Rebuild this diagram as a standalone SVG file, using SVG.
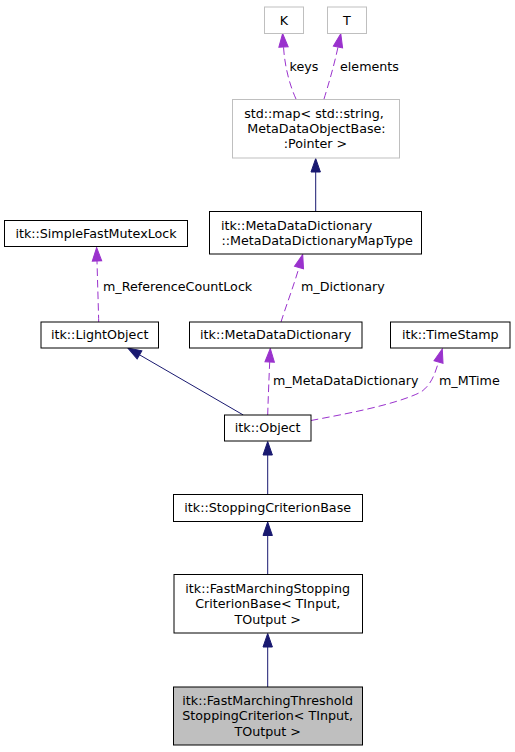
<svg xmlns="http://www.w3.org/2000/svg" width="515" height="752" viewBox="0 0 515 752">
<defs>
<style>
.node rect{fill:#ffffff;stroke:#000000;stroke-width:1}
.node.gray rect{stroke:#bfbfbf}
.node.sel rect{fill:#bfbfbf}
text{font-family:"DejaVu Sans","Liberation Sans",sans-serif;font-size:12.7px;fill:#000000}
.c{text-anchor:middle}
.inh{fill:none;stroke:#191970;stroke-width:1}
.use{fill:none;stroke:#9a32cd;stroke-width:1;stroke-dasharray:7.5,4}
</style>
<marker id="ah" markerUnits="userSpaceOnUse" markerWidth="16" markerHeight="12" refX="0" refY="0" viewBox="0 -6 14 12" orient="auto" overflow="visible">
<path d="M0,-4.7 L13.5,0 L0,4.7 z" fill="#191970" stroke="#191970" stroke-width="1"/>
</marker>
<marker id="ap" markerUnits="userSpaceOnUse" markerWidth="16" markerHeight="12" refX="0" refY="0" viewBox="0 -6 14 12" orient="auto" overflow="visible">
<path d="M0,-4.7 L13.5,0 L0,4.7 z" fill="#9a32cd" stroke="#9a32cd" stroke-width="1"/>
</marker>
</defs>
<rect width="515" height="752" fill="#ffffff"/>
<g id="connectors">
<path class="use" d="M296,99 C291,88 285,70 283.5,47" marker-end="url(#ap)"/>
<path class="use" d="M324,99 C328,86 334,66 338,47" marker-end="url(#ap)"/>
<path class="inh" d="M315.7,211 L315.7,172" marker-end="url(#ah)"/>
<path class="use" d="M281,322 C286,306 294,285 299,267.5" marker-end="url(#ap)"/>
<path class="use" d="M98.7,322 C98.3,305 97.5,280 97,261" marker-end="url(#ap)"/>
<path class="inh" d="M243.3,415 L139.5,354.8" marker-end="url(#ah)"/>
<path class="use" d="M267.7,415 C268.2,398 269,378 269.7,362" marker-end="url(#ap)"/>
<path class="use" d="M311,420.5 C345,414 395,405 421,392 C431,385 435,374 438.5,362" marker-end="url(#ap)"/>
<path class="inh" d="M267.7,494 L267.7,455" marker-end="url(#ah)"/>
<path class="inh" d="M267.7,574 L267.7,535.5" marker-end="url(#ah)"/>
<path class="inh" d="M267.7,687 L267.7,647" marker-end="url(#ah)"/>
</g>
<g id="labels">
<text x="289.5" y="71">keys</text>
<text x="340" y="71">elements</text>
<text x="103" y="291">m_ReferenceCountLock</text>
<text x="301" y="291">m_Dictionary</text>
<text x="273" y="385">m_MetaDataDictionary</text>
<text x="439" y="385">m_MTime</text>
</g>
<g id="node-K" class="node gray">
<rect x="264.5" y="7" width="39" height="26.5"/>
<text class="c" x="284" y="24.5">K</text>
</g>
<g id="node-T" class="node gray">
<rect x="327.5" y="7" width="39" height="26.5"/>
<text class="c" x="347" y="24.5">T</text>
</g>
<g id="node-map" class="node gray">
<rect x="232.5" y="99.5" width="167" height="58.5"/>
<text class="c" x="314" y="117.5">std::map&lt; std::string,</text>
<text class="c" x="316.5" y="132.5">MetaDataObjectBase:</text>
<text class="c" x="315.5" y="147.5">:Pointer &gt;</text>
</g>
<g id="node-maptype" class="node">
<rect x="209.5" y="211.5" width="212" height="42.5"/>
<text x="221" y="229.5">itk::MetaDataDictionary</text>
<text x="221.5" y="245">::MetaDataDictionaryMapType</text>
</g>
<g id="node-mutex" class="node">
<rect x="4.5" y="220.5" width="183" height="26"/>
<text class="c" x="96" y="237.5">itk::SimpleFastMutexLock</text>
</g>
<g id="node-lightobject" class="node">
<rect x="41" y="322" width="117.5" height="26"/>
<text class="c" x="99.7" y="339">itk::LightObject</text>
</g>
<g id="node-metadatadictionary" class="node">
<rect x="189.5" y="322" width="172.5" height="26"/>
<text class="c" x="275.7" y="339">itk::MetaDataDictionary</text>
</g>
<g id="node-timestamp" class="node">
<rect x="390.5" y="322" width="119.5" height="26"/>
<text class="c" x="450.3" y="339">itk::TimeStamp</text>
</g>
<g id="node-object" class="node">
<rect x="224.5" y="415" width="86.5" height="26"/>
<text class="c" x="267.7" y="432">itk::Object</text>
</g>
<g id="node-stoppingbase" class="node">
<rect x="173.5" y="494.5" width="189" height="27"/>
<text class="c" x="267.7" y="512">itk::StoppingCriterionBase</text>
</g>
<g id="node-fmstopping" class="node">
<rect x="174" y="574.5" width="188.5" height="58.5"/>
<text class="c" x="267.7" y="592.5">itk::FastMarchingStopping</text>
<text class="c" x="267.7" y="608">CriterionBase&lt; TInput,</text>
<text class="c" x="267.7" y="623.5">TOutput &gt;</text>
</g>
<g id="node-threshold" class="node sel">
<rect x="173.5" y="687" width="189" height="58"/>
<text class="c" x="267.7" y="704.5">itk::FastMarchingThreshold</text>
<text class="c" x="267.7" y="720">StoppingCriterion&lt; TInput,</text>
<text class="c" x="267.7" y="735.5">TOutput &gt;</text>
</g>
</svg>
